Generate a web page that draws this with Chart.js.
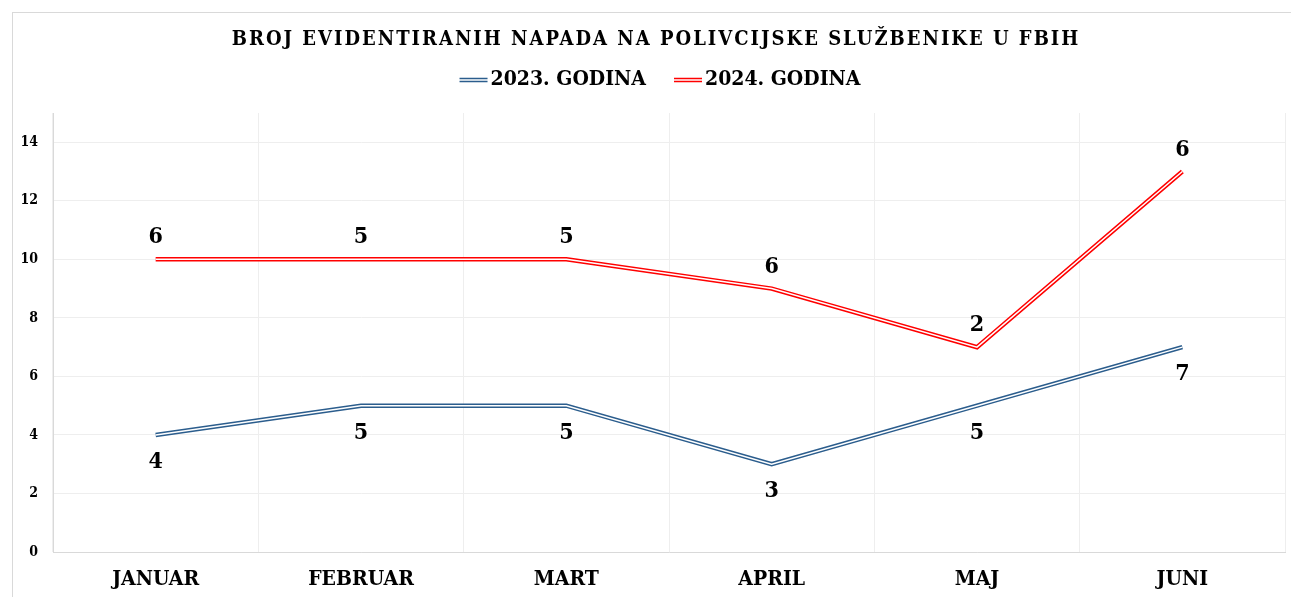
<!DOCTYPE html>
<html>
<head>
<meta charset="utf-8">
<script src="https://cdn.jsdelivr.net/npm/chart.js@4.4.1/dist/chart.umd.min.js"></script>
<style>
    html, body { margin: 0; padding: 0; background: #fff; }
    canvas { display: block; }
</style>
</head>
<body>
<canvas id="napadi" width="1291" height="597"></canvas>
<script>
// podaci
const months = ['JANUAR', 'FEBRUAR', 'MART', 'APRIL', 'MAJ', 'JUNI'];
const napadi2023 = [4, 5, 5, 3, 5, 7];
const napadi2024 = [6, 5, 5, 6, 2, 6];
const seriesNames = ['2023. GODINA', '2024. GODINA'];
const seriesColors = ['#2b5d8d', '#ff0000'];
const yMax = 15;
const yStep = 2;
const chartTitle = 'BROJ EVIDENTIRANIH NAPADA NA POLIVCIJSKE SLUŽBENIKE U FBIH';

const FONT = '"DejaVu Serif Condensed", "DejaVu Serif", "Liberation Serif", serif';

// okvir, naslov i legenda
const framePlugin = {
    id: 'frame',
    beforeDraw(chart) {
        const ctx = chart.ctx;
        ctx.save();
        ctx.strokeStyle = '#d9d9d9';
        ctx.lineWidth = 1;
        ctx.strokeRect(12.5, 12.5, 1300, 600);
        ctx.restore();
    },
    afterDraw(chart) {
        const ctx = chart.ctx;
        ctx.save();
        // naslov
        ctx.fillStyle = '#000';
        ctx.font = 'bold 20px ' + FONT;
        ctx.letterSpacing = '2px';
        ctx.textAlign = 'center';
        ctx.textBaseline = 'middle';
        ctx.fillText(chartTitle, 656, 40);
        ctx.letterSpacing = '0px';

        // legenda
        ctx.font = 'bold 21px ' + FONT;
        ctx.textAlign = 'left';
        const lineW = 28, gap = 3, itemGap = 28, y = 80;
        const widths = chart.data.datasets.map(d => ctx.measureText(d.label).width);
        const total = widths.reduce((a, w) => a + lineW + gap + w, 0) + itemGap;
        let x = 660 - total / 2;
        chart.data.datasets.forEach((d, i) => {
            ctx.strokeStyle = d.borderColor;
            ctx.lineWidth = 1.3;
            ctx.beginPath();
            ctx.moveTo(x, y - 1.5); ctx.lineTo(x + lineW, y - 1.5);
            ctx.moveTo(x, y + 1.5); ctx.lineTo(x + lineW, y + 1.5);
            ctx.stroke();
            ctx.fillStyle = '#000';
            ctx.fillText(d.label, x + lineW + gap, y);
            x += lineW + gap + widths[i] + itemGap;
        });
        ctx.restore();
    }
};

// dvostruka linija: bijela linija po sredini
const doubleLinePlugin = {
    id: 'doubleLine',
    afterDatasetDraw(chart, args) {
        const pts = args.meta.data;
        const ctx = chart.ctx;
        ctx.save();
        ctx.strokeStyle = '#fff';
        ctx.lineWidth = 1.5;
        ctx.lineJoin = 'miter';
        ctx.beginPath();
        pts.forEach((p, i) => i ? ctx.lineTo(p.x, p.y) : ctx.moveTo(p.x, p.y));
        ctx.stroke();
        ctx.restore();
    }
};

// oznake vrijednosti
const valueLabelPlugin = {
    id: 'valueLabels',
    afterDatasetsDraw(chart) {
        const ctx = chart.ctx;
        ctx.save();
        ctx.font = 'bold 23px ' + FONT;
        ctx.fillStyle = '#000';
        ctx.textAlign = 'center';
        ctx.textBaseline = 'middle';
        chart.data.datasets.forEach((ds, di) => {
            const meta = chart.getDatasetMeta(di);
            meta.data.forEach((p, i) => {
                const dy = di === 0 ? 27 : -22;
                ctx.fillText(String(ds.data[i]), p.x, p.y + dy);
            });
        });
        ctx.restore();
    }
};

new Chart(document.getElementById('napadi').getContext('2d'), {
    type: 'line',
    data: {
        labels: months,
        datasets: [
            {
                label: seriesNames[0],
                data: napadi2023,
                borderColor: seriesColors[0],
                borderWidth: 4.5,
                pointRadius: 0,
                tension: 0,
                fill: false,
                borderJoinStyle: 'miter'
            },
            {
                label: seriesNames[1],
                data: napadi2024,
                borderColor: seriesColors[1],
                borderWidth: 4.5,
                pointRadius: 0,
                tension: 0,
                fill: false,
                borderJoinStyle: 'miter'
            }
        ]
    },
    options: {
        responsive: false,
        animation: false,
        layout: {
            padding: { left: 12, right: 6, top: 113, bottom: 0 }
        },
        plugins: {
            legend: { display: false },
            title: { display: false },
            tooltip: { enabled: false }
        },
        scales: {
            x: {
                offset: true,
                grid: { offset: true, color: '#eeeeee', drawTicks: false },
                border: { color: '#d9d9d9' },
                ticks: {
                    color: '#000',
                    padding: 15,
                    font: { family: FONT, size: 21, weight: 'bold' }
                },
                afterFit(scale) { scale.height = 45; }
            },
            y: {
                stacked: true,
                min: 0,
                max: yMax,
                grid: { color: '#eeeeee', drawTicks: false },
                border: { color: '#d9d9d9' },
                ticks: {
                    stepSize: yStep,
                    color: '#000',
                    padding: 15,
                    font: { family: FONT, size: 14, weight: 'bold' }
                },
                afterBuildTicks(scale) {
                    scale.ticks = scale.ticks.filter(t => t.value <= 14);
                },
                afterFit(scale) { scale.width = 41; }
            }
        }
    },
    plugins: [framePlugin, doubleLinePlugin, valueLabelPlugin]
});
</script>
</body>
</html>
